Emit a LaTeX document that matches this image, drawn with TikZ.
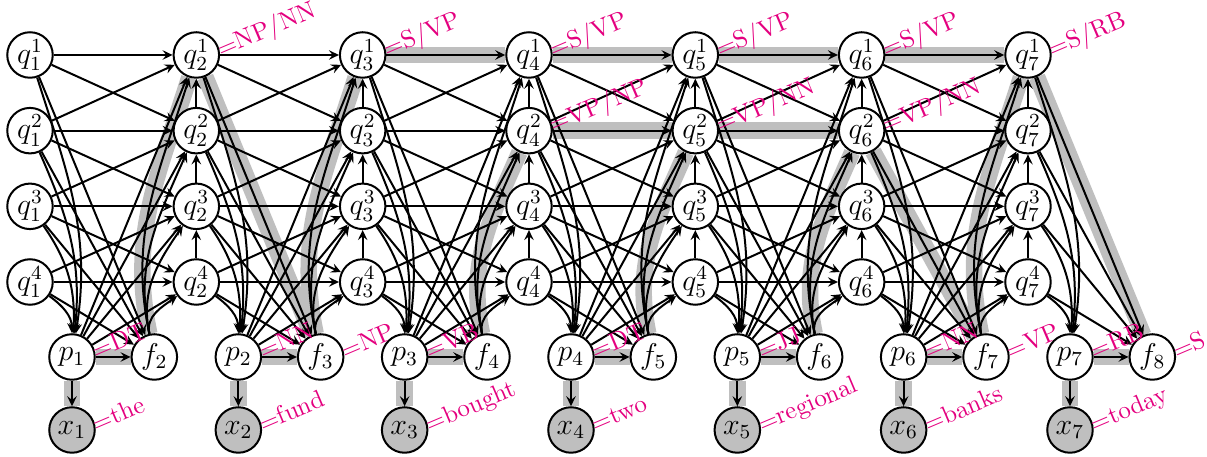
\documentclass[tikz,border=0pt]{standalone}
\usetikzlibrary{arrows.meta}
\definecolor{labpink}{RGB}{228,0,127}
\definecolor{hlgray}{RGB}{191,191,191}
\pgfdeclarelayer{bg}
\pgfdeclarelayer{mid}
\pgfdeclarelayer{fg}
\pgfsetlayers{bg,mid,main,fg}
\begin{document}
\begin{tikzpicture}[x=0.4pt,y=0.4pt,
  var/.style={circle,draw,thick,fill=white,minimum size=18.2pt,inner sep=0pt,font=\large},
  obs/.style={var,fill=hlgray},
  edge/.style={thick,-{Stealth[length=4pt,width=3.8pt,inset=1.5pt]}},
  hl/.style={line width=6.6pt,hlgray},
  lab/.style={text=labpink,rotate=23,anchor=base west,inner sep=0pt,outer sep=0pt,yshift=-1pt}]
\useasboundingbox (0,0) rectangle (1207,457);
% ---------- nodes
\foreach \t in {1,...,7}{
  \pgfmathsetmacro{\qx}{30+166.33*(\t-1)}
  \pgfmathtruncatemacro{\nt}{\t+1}
  \foreach \d in {1,...,4}{
    \node[var] (q\t\d) at ({\qx},{402-75.67*(\d-1)}) {$q_{\t}^{\d}$};
  }
  \node[var] (p\t) at ({\qx+42},100) {$p_{\t}$};
  \node[obs] (x\t) at ({\qx+42},27) {$x_{\t}$};
  \node[var] (f\nt) at ({\qx+124.33},100) {$f_{\nt}$};
}
% ---------- edges
\begin{pgfonlayer}{mid}
\foreach \t in {1,...,7}{
  \pgfmathtruncatemacro{\nt}{\t+1}
  \foreach \d/\af in {1/-67.5,2/-61.2,3/-50.4,4/-31}{
    \pgfmathsetmacro{\outang}{\af-5}
    \pgfmathsetmacro{\inang}{78+3*\d}
    \draw[edge] (q\t\d) to[out=\outang,in=\inang] (p\t);
    \draw[edge] (q\t\d) -- (f\nt);
  }
  \draw[edge] (p\t) -- (f\nt);
  \draw[edge] (p\t) -- (x\t);
}
\foreach \t in {1,...,6}{
  \pgfmathtruncatemacro{\nt}{\t+1}
  \foreach \d/\ap in {1/67.7,2/61.4,3/50.6,4/31.2}{
    \pgfmathsetmacro{\inang}{\ap+185}
    \draw[edge] (p\t) -- (q\nt\d);
    \draw[edge] (f\nt) to[out=102,in=\inang] (q\nt\d);
    \draw[edge] (q\t\d) -- (q\nt\d);
  }
  \foreach \d in {1,2,3}{
    \pgfmathtruncatemacro{\e}{\d+1}
    \draw[edge] (q\t\d) -- (q\nt\e);
    \draw[edge] (q\t\e) -- (q\nt\d);
    \draw[edge] (q\nt\e) -- (q\nt\d);
  }
}
\end{pgfonlayer}
% ---------- highlighted path
\begin{pgfonlayer}{bg}
\foreach \t in {1,...,7}{
  \pgfmathtruncatemacro{\nt}{\t+1}
  \draw[hl] (p\t) -- (x\t);
  \draw[hl] (p\t) -- (f\nt);
}
\draw[hl] (f2) to[out=102,in=252.7] (q21);
\draw[hl] (q21) -- (f3);
\draw[hl] (f3) to[out=102,in=252.7] (q31);
\draw[hl] (q31) -- (q41);
\draw[hl] (q41) -- (q51);
\draw[hl] (q51) -- (q61);
\draw[hl] (q61) -- (q71);
\draw[hl] (f4) to[out=102,in=246.4] (q42);
\draw[hl] (q42) -- (q52);
\draw[hl] (q52) -- (q62);
\draw[hl] (f5) to[out=102,in=246.4] (q52);
\draw[hl] (f6) to[out=102,in=246.4] (q62);
\draw[hl] (q62) -- (f7);
\draw[hl] (f7) to[out=102,in=252.7] (q71);
\draw[hl] (q71) -- (f8);
\end{pgfonlayer}
% ---------- labels
\begin{pgfonlayer}{fg}
\node[lab] (l21) at (q21.east) {=NP/NN};
\node[lab] (l31) at (q31.east) {=S/VP};
\node[lab] (l41) at (q41.east) {=S/VP};
\node[lab] (l51) at (q51.east) {=S/VP};
\node[lab] (l61) at (q61.east) {=S/VP};
\node[lab] (l71) at (q71.east) {=S/RB};
\node[lab] (l42) at (q42.east) {=VP/NP};
\node[lab] (l52) at (q52.east) {=VP/NN};
\node[lab] (l62) at (q62.east) {=VP/NN};
\node[lab] (lp1) at (p1.east) {=DT};
\node[lab] (lp2) at (p2.east) {=NN};
\node[lab] (lp3) at (p3.east) {=VB};
\node[lab] (lp4) at (p4.east) {=DT};
\node[lab] (lp5) at (p5.east) {=JJ};
\node[lab] (lp6) at (p6.east) {=NN};
\node[lab] (lp7) at (p7.east) {=RB};
\node[lab] (lf3) at (f3.east) {=NP};
\node[lab] (lf7) at (f7.east) {=VP};
\node[lab] (lf8) at (f8.east) {=S};
\node[lab] (lx1) at (x1.east) {=the};
\node[lab] (lx2) at (x2.east) {=fund};
\node[lab] (lx3) at (x3.east) {=bought};
\node[lab] (lx4) at (x4.east) {=two};
\node[lab] (lx5) at (x5.east) {=regional};
\node[lab] (lx6) at (x6.east) {=banks};
\node[lab] (lx7) at (x7.east) {=today};
\end{pgfonlayer}
\end{tikzpicture}
\end{document}
